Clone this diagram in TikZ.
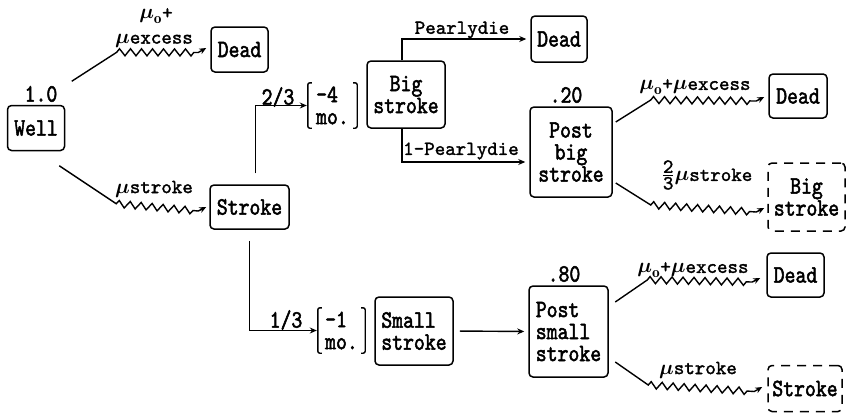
\documentclass[tikz,border=0pt]{standalone}
\usepackage{fontspec}
\usepackage{amsmath}
\usetikzlibrary{arrows.meta,decorations.pathmorphing}
\newfontfamily\twfont{lmmono10-regular.otf}[FakeStretch=0.83, FakeBold=2]
\newfontfamily\twsfont{lmmono10-regular.otf}[FakeBold=1.6]
\newcommand\boxfont{\twfont\fontsize{25}{22}\selectfont}
\newcommand\subfont{\twsfont\fontsize{20}{20}\selectfont}
\newcommand\mmu{{\fontsize{22}{22}\selectfont$\boldsymbol{\mu}$}}
\newcommand\mmuo{{\fontsize{22}{22}\selectfont$\boldsymbol{\mu}_{\mathbf{o}}$}}
\tikzset{
  box/.style={draw, rounded corners=4pt, line width=1.5pt, inner sep=0pt, font=\boxfont, align=center},
  dbox/.style={box, dash pattern=on 9pt off 7pt},
  lbl/.style={inner sep=0pt, font=\boxfont},
  slbl/.style={inner sep=0pt},
  brk/.style={line width=1.4pt, rounded corners=2pt},
  conn/.style={line width=1.4pt, -{Stealth[length=7pt,width=6pt]}},
  zz/.style={decoration={zigzag, segment length=11pt, amplitude=3.5pt, post length=2pt}},
}
\begin{document}
\begin{tikzpicture}[x=1pt,y=-1pt]
\useasboundingbox (0,0) rectangle (847,413);
% nodes
\node[box, minimum width=57pt, minimum height=45pt] (well) at (36,128) {Well};
\node[box, minimum width=57pt, minimum height=45pt] (dead1) at (239.5,49.5) {Dead};
\node[box, minimum width=79pt, minimum height=44pt] (stroke) at (249.5,207) {Stroke};
\node[lbl, align=left, minimum width=49pt, minimum height=45pt] (br1) at (332.5,105.5) {\textendash4\\mo.};
\node[box, minimum width=78pt, minimum height=67pt] (bigstroke) at (406,94.5) {Big\\stroke};
\node[box, minimum width=56pt, minimum height=46pt] (dead2) at (559,39) {Dead};
\node[box, minimum width=82pt, minimum height=90pt] (postbig) at (571,152) {Post\\big\\stroke};
\node[box, minimum width=58pt, minimum height=44pt] (dead3) at (798,96) {Dead};
\node[dbox, minimum width=77pt, minimum height=68pt] (bigdash) at (806.5,197) {Big\\stroke};
\node[lbl, align=left, minimum width=47pt, minimum height=45pt] (br2) at (341.5,330.5) {\textendash1\\mo.};
\node[box, align=left, minimum width=78pt, minimum height=68pt] (smallstroke) at (414,331) {Small\\stroke};
\node[box, align=left, minimum width=79pt, minimum height=91pt] (postsmall) at (568.5,331.5) {Post\\small\\stroke};
\node[box, minimum width=57pt, minimum height=44pt] (dead4) at (795.5,275) {Dead};
\node[dbox, minimum width=74pt, minimum height=46pt] (strokedash) at (805,388.5) {Stroke};
% brackets
\foreach \b in {br1,br2}{
  \draw[brk] ([xshift=4pt]\b.north west) -- (\b.north west) -- (\b.south west) -- ([xshift=4pt]\b.south west);
  \draw[brk] ([xshift=-4pt]\b.north east) -- (\b.north east) -- (\b.south east) -- ([xshift=-4pt]\b.south east);
}
% labels
\node[lbl] (l10) at (41,94) {1.0};
\node[slbl] (lmu0) at (156,16) {\mmuo{\subfont+}};
\node[slbl] (lexc) at (154,41) {\mmu{\subfont excess}};
\node[slbl] (lstk) at (154,189) {\mmu{\subfont stroke}};
\node[lbl] (l23) at (278,97) {2/3};
\node[slbl] (lpd) at (462,30) {\subfont Pearlydie};
\node[slbl] (l1pd) at (461,151) {\subfont 1\textendash Pearlydie};
\node[lbl] (l20) at (566,95) {.20};
\node[slbl] (lex3) at (695,87) {\mmuo{\subfont+}\mmu{\subfont excess}};
\node[slbl] (lbs) at (707,175) {{\fontsize{22}{22}\selectfont$\frac{\mbox{\subfont 2}}{\mbox{\subfont 3}}\boldsymbol{\mu}$}{\subfont stroke}};
\node[lbl] (l80) at (564,274) {.80};
\node[lbl] (l13) at (286,320) {1/3};
\node[slbl] (lex4) at (693,270) {\mmuo{\subfont+}\mmu{\subfont excess}};
\node[slbl] (lstk2) at (698,370) {\mmu{\subfont stroke}};
% connectors
\draw[conn] ([shift={(6.5pt,23.5pt)}]well.north east) -- ++(45,-29) decorate[zz]{-- ([shift={(-12pt,-3pt)}]dead1.west)} -- ([shift={(-4pt,1.5pt)}]dead1.west);
\draw[conn] ([shift={(-6pt,-14.5pt)}]well.south east) -- ++(57,38) decorate[zz]{-- ([shift={(-11pt,-4pt)}]stroke.west)} -- ([xshift=-3pt]stroke.west);
\draw[conn, shorten <=11pt, shorten >=1pt] ([xshift=6pt]stroke.north) |- (br1.west);
\draw[conn, shorten <=11pt, shorten >=1pt] (stroke.south) |- (br2.west);
\draw[conn, shorten >=4pt] ([xshift=-4pt]bigstroke.north) |- (dead2.west);
\draw[conn, shorten >=4pt] ([xshift=-4pt]bigstroke.south) |- ([yshift=-10pt]postbig.west);
\draw[conn, shorten <=6pt, shorten >=4pt] (smallstroke.east) -- (postsmall.west);
\draw[conn] ([shift={(3pt,30pt)}]postbig.east) -- ++(35,-22) decorate[zz]{-- ([shift={(-12pt,-5pt)}]dead3.west)} -- ([shift={(-4pt,-1pt)}]dead3.west);
\draw[conn] ([shift={(3pt,-31pt)}]postbig.east) -- ++(35,22) decorate[zz]{-- ([shift={(-11pt,-15pt)}]bigdash.west)} -- ([shift={(-3pt,-11pt)}]bigdash.west);
\draw[conn] ([shift={(6.5pt,29.5pt)}]postsmall.east) -- ++(32,-22) decorate[zz]{-- ([shift={(-14pt,-7pt)}]dead4.west)} -- ([shift={(-6pt,-3pt)}]dead4.west);
\draw[conn] ([shift={(6.5pt,-30.5pt)}]postsmall.east) -- ++(33,23) decorate[zz]{-- ([shift={(-13pt,-3pt)}]strokedash.west)} -- ([shift={(-5pt,1.5pt)}]strokedash.west);
\end{tikzpicture}
\end{document}
